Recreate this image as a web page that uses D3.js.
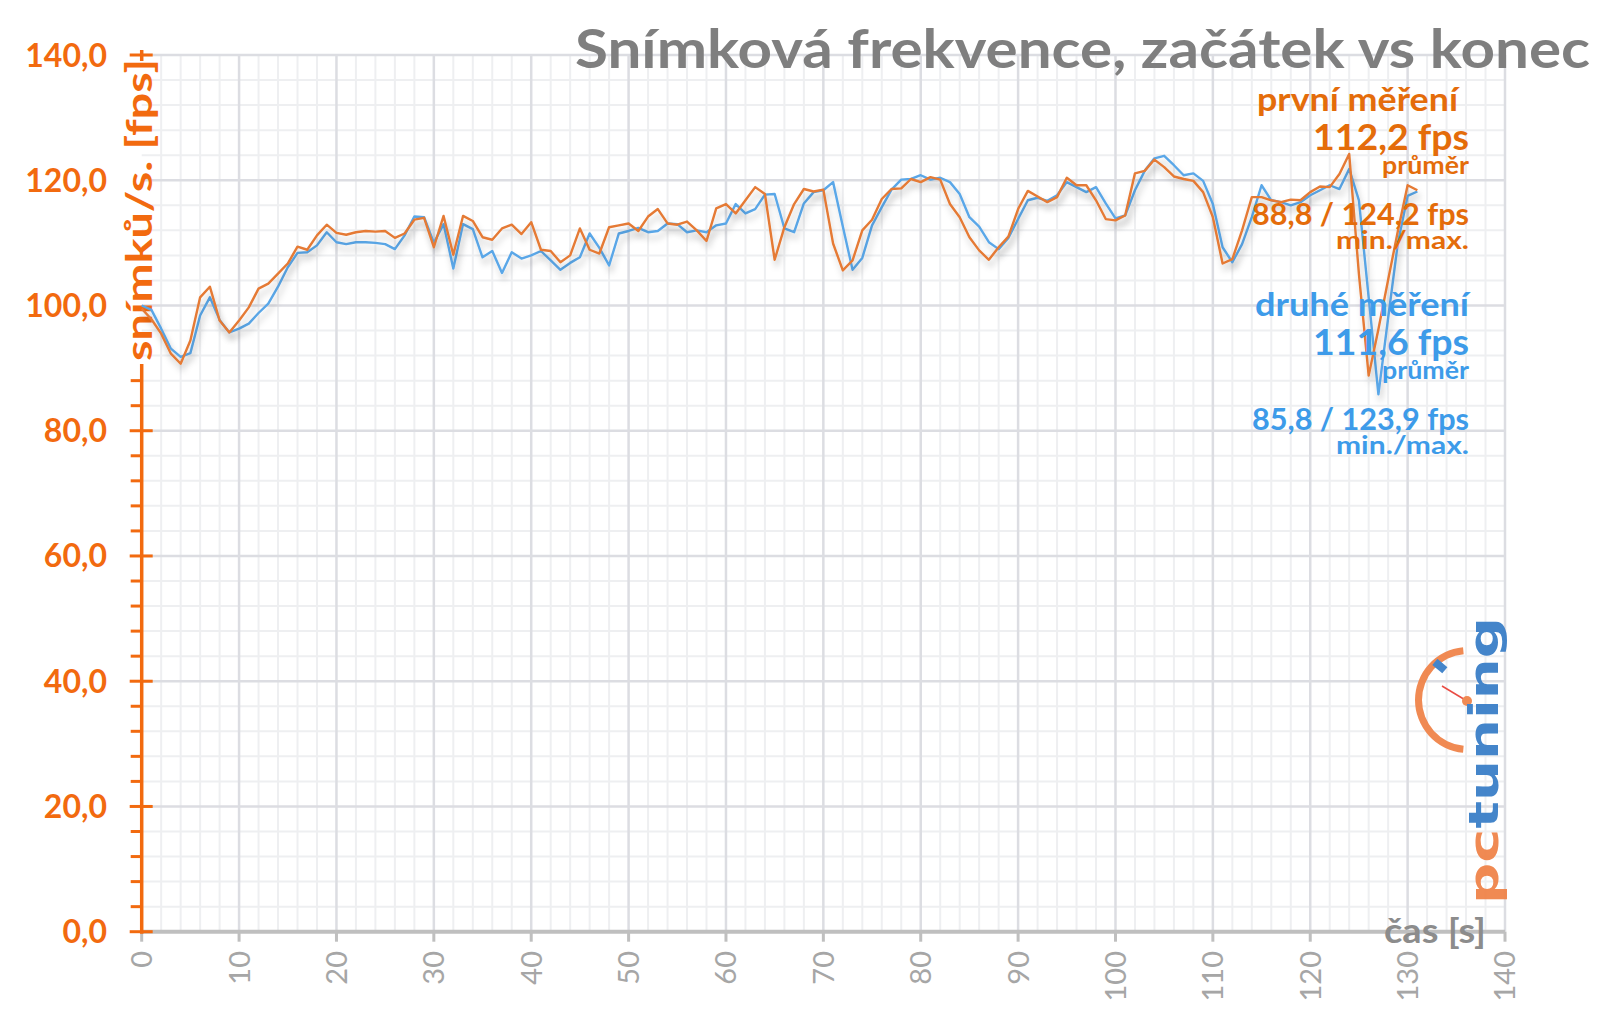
<!DOCTYPE html>
<html>
<head>
<meta charset="utf-8">
<script src="https://cdn.jsdelivr.net/npm/d3@7"></script>
<style>
  body { margin: 0; background: #fff; }
  svg { display: block; font-family: Lato, "Open Sans", sans-serif; }
</style>
</head>
<body>
<div id="vis"></div>
<script>
const frame_width = 1600;
const frame_height = 1015;
const plot = {left: 141.7, right: 1505, top: 55, bottom: 931.7};

// seconds 0..131
const seconds = d3.range(0, 132);

// první měření (orange)
const first_run = [
  99.5, 97.8, 95.5, 92.3, 90.7, 94.4, 101.3, 103.0, 97.6, 95.7,
  97.6, 99.7, 102.7, 103.5, 105.1, 106.7, 109.4, 108.9, 111.2, 112.9,
  111.6, 111.3, 111.7, 111.9, 111.8, 111.9, 110.8, 111.5, 113.7, 114.0,
  109.3, 114.3, 108.1, 114.3, 113.5, 110.9, 110.5, 112.3, 112.9, 111.4,
  113.3, 108.9, 108.7, 106.9, 108.0, 112.3, 108.9, 108.3, 112.5, 112.8,
  113.1, 111.9, 114.2, 115.4, 113.1, 112.9, 113.4, 112.0, 110.3, 115.5,
  116.2, 114.7, 116.8, 118.9, 117.8, 107.3, 112.5, 116.2, 118.6, 118.2,
  118.5, 109.9, 105.6, 107.2, 112.0, 113.7, 117.0, 118.6, 118.7, 120.2,
  119.7, 120.5, 120.1, 116.2, 114.1, 110.9, 108.8, 107.3, 109.3, 111.0,
  115.4, 118.3, 117.4, 116.5, 117.3, 120.4, 119.2, 119.2, 116.8, 113.8,
  113.6, 114.4, 121.1, 121.5, 123.3, 122.1, 120.6, 120.2, 119.9, 118.1,
  114.1, 106.7, 107.4, 112.0, 117.3, 117.3, 116.8, 116.5, 116.9, 116.8,
  118.1, 119.0, 118.9, 121.0, 124.2, 105.0, 88.8, 96.2, 104.1, 111.9,
  119.2, 118.4
];

// druhé měření (blue)
const second_run = [
  100.0, 99.3, 96.3, 93.1, 91.8, 92.4, 98.4, 101.3, 97.7, 95.7,
  96.3, 97.1, 98.8, 100.3, 103.0, 106.1, 108.4, 108.5, 109.6, 111.7,
  110.1, 109.8, 110.1, 110.1, 110.0, 109.8, 109.0, 111.2, 114.2, 114.1,
  110.0, 113.0, 105.9, 113.0, 112.2, 107.7, 108.7, 105.2, 108.5, 107.5,
  108.0, 108.7, 107.2, 105.7, 106.8, 107.7, 111.5, 109.2, 106.4, 111.5,
  111.9, 112.4, 111.7, 111.9, 113.1, 113.0, 111.7, 112.0, 111.7, 112.8,
  113.1, 116.2, 114.7, 115.4, 117.7, 117.8, 112.3, 111.7, 116.3, 118.1,
  118.4, 119.7, 112.6, 105.7, 107.6, 112.8, 115.7, 118.5, 120.1, 120.2,
  120.8, 120.1, 120.4, 119.7, 117.8, 114.1, 112.6, 110.1, 109.0, 110.8,
  113.8, 116.8, 117.2, 116.7, 117.6, 119.7, 118.9, 118.1, 118.9, 116.3,
  113.9, 114.4, 118.4, 121.5, 123.5, 123.9, 122.4, 120.8, 121.1, 119.9,
  116.2, 109.3, 106.9, 109.8, 114.1, 119.2, 116.8, 116.5, 116.0, 116.5,
  117.6, 118.4, 119.2, 118.6, 121.8, 116.8, 101.3, 85.8, 98.0, 110.0,
  117.5, 118.2
];

const y_ticks = [0, 20, 40, 60, 80, 100, 120, 140];
const x_ticks = [0, 10, 20, 30, 40, 50, 60, 70, 80, 90, 100, 110, 120, 130, 140];

const title_text = "Snímková frekvence, začátek vs konec";
const legend_first = ["první měření", "112,2 fps", "průměr", "88,8 / 124,2 fps", "min./max."];
const legend_second = ["druhé měření", "111,6 fps", "průměr", "85,8 / 123,9 fps", "min./max."];

const ORANGE_AXIS = "#f26a0f";
const ORANGE_TEXT = "#e46c0a";
const ORANGE_LINE = "#e57a34";
const BLUE_TEXT = "#3d9be9";
const BLUE_LINE = "#5aa7e8";
const GREY = "#8c8c8c";

const fmt = (v) => v.toFixed(1).replace(".", ",");

const FRAME = d3.select("#vis")
  .append("svg")
    .attr("width", frame_width)
    .attr("height", frame_height);

const defs = FRAME.append("defs");
const shadow = defs.append("filter")
  .attr("id", "shadow")
  .attr("x", "-5%").attr("y", "-20%")
  .attr("width", "110%").attr("height", "160%");
shadow.append("feDropShadow")
  .attr("dx", 2).attr("dy", 6)
  .attr("stdDeviation", 3)
  .attr("flood-color", "#000")
  .attr("flood-opacity", 0.2);

const X_SCALE = d3.scaleLinear().domain([0, 140]).range([plot.left, plot.right]);
const Y_SCALE = d3.scaleLinear().domain([0, 140]).range([plot.bottom, plot.top]);

// grid: minor lines every 2 s / 4 fps, major every 10 s / 20 fps
const grid = FRAME.append("g");
grid.selectAll(".vminor")
  .data(d3.range(0, 141, 2).filter(d => d % 10 != 0))
  .enter().append("line")
    .attr("x1", d => X_SCALE(d)).attr("x2", d => X_SCALE(d))
    .attr("y1", plot.top).attr("y2", plot.bottom)
    .attr("stroke", "#eeeff1").attr("stroke-width", 2);
grid.selectAll(".hminor")
  .data(d3.range(0, 141, 4).filter(d => d % 20 != 0))
  .enter().append("line")
    .attr("x1", plot.left).attr("x2", plot.right)
    .attr("y1", d => Y_SCALE(d)).attr("y2", d => Y_SCALE(d))
    .attr("stroke", "#eeeff1").attr("stroke-width", 2);
grid.selectAll(".vmajor")
  .data(x_ticks.slice(1))
  .enter().append("line")
    .attr("x1", d => X_SCALE(d)).attr("x2", d => X_SCALE(d))
    .attr("y1", plot.top).attr("y2", plot.bottom)
    .attr("stroke", "#dcdde2").attr("stroke-width", 2.5);
grid.selectAll(".hmajor")
  .data(y_ticks.slice(1))
  .enter().append("line")
    .attr("x1", plot.left).attr("x2", plot.right)
    .attr("y1", d => Y_SCALE(d)).attr("y2", d => Y_SCALE(d))
    .attr("stroke", "#dcdde2").attr("stroke-width", 2.5);

// title
FRAME.append("text")
  .attr("x", 1590).attr("y", 68)
  .attr("text-anchor", "end")
  .attr("font-size", 53).attr("font-weight", 700)
  .attr("fill", "#7f7f7f")
  .attr("textLength", 1015).attr("lengthAdjust", "spacingAndGlyphs")
  .text(title_text);

// x axis
FRAME.append("line")
  .attr("x1", plot.left).attr("x2", plot.right)
  .attr("y1", plot.bottom).attr("y2", plot.bottom)
  .attr("stroke", "#bfbfbf").attr("stroke-width", 4);
FRAME.selectAll(".xtick")
  .data(x_ticks)
  .enter().append("line")
    .attr("x1", d => X_SCALE(d)).attr("x2", d => X_SCALE(d))
    .attr("y1", plot.bottom).attr("y2", plot.bottom + 10)
    .attr("stroke", "#bfbfbf").attr("stroke-width", 3);
FRAME.selectAll(".xlabel")
  .data(x_ticks)
  .enter().append("text")
    .attr("transform", d => "translate(" + X_SCALE(d) + "," + 951 + ") rotate(-90)")
    .attr("text-anchor", "end")
    .attr("dy", "0.36em")
    .attr("font-size", 29)
    .attr("fill", "#a6a6a6")
    .text(d => d);
FRAME.append("text")
  .attr("x", 1486).attr("y", 943)
  .attr("text-anchor", "end")
  .attr("font-size", 35).attr("font-weight", 700)
  .attr("fill", GREY)
  .attr("textLength", 102).attr("lengthAdjust", "spacingAndGlyphs")
  .text("čas [s]");

// y axis
FRAME.append("line")
  .attr("x1", plot.left).attr("x2", plot.left)
  .attr("y1", 364).attr("y2", plot.bottom + 2)
  .attr("stroke", ORANGE_AXIS).attr("stroke-width", 3.5);
FRAME.append("line")
  .attr("x1", plot.left).attr("x2", plot.left)
  .attr("y1", plot.top - 5).attr("y2", plot.top + 6)
  .attr("stroke", ORANGE_AXIS).attr("stroke-width", 3.5);
FRAME.selectAll(".yminor")
  .data(d3.range(0, 141, 4).filter(d => d % 20 != 0 && Y_SCALE(d) > 364))
  .enter().append("line")
    .attr("x1", plot.left - 11).attr("x2", plot.left)
    .attr("y1", d => Y_SCALE(d)).attr("y2", d => Y_SCALE(d))
    .attr("stroke", ORANGE_AXIS).attr("stroke-width", 3);
FRAME.selectAll(".ymajor")
  .data(y_ticks.filter(d => Y_SCALE(d) > 364 || d == 140))
  .enter().append("line")
    .attr("x1", plot.left - 12).attr("x2", plot.left + 11)
    .attr("y1", d => Y_SCALE(d)).attr("y2", d => Y_SCALE(d))
    .attr("stroke", ORANGE_AXIS).attr("stroke-width", 3);
FRAME.selectAll(".ylabel")
  .data(y_ticks)
  .enter().append("text")
    .attr("x", 107)
    .attr("y", d => Y_SCALE(d))
    .attr("dy", "0.36em")
    .attr("text-anchor", "end")
    .attr("font-size", 32).attr("font-weight", 700)
    .attr("fill", ORANGE_AXIS)
    .text(d => fmt(d));
FRAME.append("text")
  .attr("transform", "translate(" + 152 + "," + 210 + ") rotate(-90)")
  .attr("text-anchor", "middle")
  .attr("font-size", 37).attr("font-weight", 700)
  .attr("fill", ORANGE_AXIS)
  .attr("textLength", 302).attr("lengthAdjust", "spacingAndGlyphs")
  .text("snímků/s. [fps]");

// logo (pctuning), drawn vertically with a clock arc on its left
const logo = FRAME.append("g").attr("opacity", 0.95);
logo.append("path")
  .attr("d", d3.arc()({innerRadius: 46, outerRadius: 53, startAngle: Math.PI * 1.03, endAngle: Math.PI * 1.97}))
  .attr("transform", "translate(1468,700)")
  .attr("fill", "#f0844a");
logo.append("rect")
  .attr("x", -4).attr("y", -8).attr("width", 8).attr("height", 13)
  .attr("transform", "translate(1441,667) rotate(-50)")
  .attr("fill", "#3a7fc8");
logo.append("line")
  .attr("x1", 1442).attr("y1", 686).attr("x2", 1467).attr("y2", 701)
  .attr("stroke", "#e8433a").attr("stroke-width", 1.5);
logo.append("circle")
  .attr("cx", 1467).attr("cy", 701).attr("r", 5)
  .attr("fill", "#f0844a");
const logo_text = logo.append("text")
  .attr("transform", "translate(1498,904) rotate(-90)")
  .attr("font-size", 40).attr("font-weight", 700)
  .attr("font-family", "'DejaVu Sans', sans-serif")
  .attr("textLength", 287).attr("lengthAdjust", "spacingAndGlyphs");
logo_text.append("tspan").attr("fill", "#f0844a").text("pc");
logo_text.append("tspan").attr("fill", "#3a7fc8").text("tuning");

// lines
const line = d3.line()
  .x((d, i) => X_SCALE(seconds[i]))
  .y(d => Y_SCALE(d));

FRAME.append("path")
  .datum(second_run)
  .attr("d", line)
  .attr("fill", "none")
  .attr("stroke", BLUE_LINE)
  .attr("stroke-width", 2.4)
  .attr("stroke-linejoin", "round")
  .attr("filter", "url(#shadow)");
FRAME.append("path")
  .datum(first_run)
  .attr("d", line)
  .attr("fill", "none")
  .attr("stroke", ORANGE_LINE)
  .attr("stroke-width", 2.4)
  .attr("stroke-linejoin", "round")
  .attr("filter", "url(#shadow)");

// legend blocks
const legend_sizes = [33, 37, 25, 31, 25];
const legend_offsets = [0, 39, 63, 114, 138];
const legend_widths = [null, 156, 87, 217, 133];
function drawLegend(labels, color, top, right_first, first_width) {
  FRAME.selectAll(null)
    .data(labels)
    .enter().append("text")
      .attr("x", (d, i) => (i == 0 ? right_first : 1469))
      .attr("y", (d, i) => top + legend_offsets[i])
      .attr("text-anchor", "end")
      .attr("font-size", (d, i) => legend_sizes[i])
      .attr("font-weight", 700)
      .attr("fill", color)
      .attr("textLength", (d, i) => (i == 0 ? first_width : legend_widths[i]))
      .attr("lengthAdjust", "spacingAndGlyphs")
      .text(d => d);
}
drawLegend(legend_first, ORANGE_TEXT, 111, 1458, 201);
drawLegend(legend_second, BLUE_TEXT, 316, 1469, 214);
</script>
</body>
</html>
